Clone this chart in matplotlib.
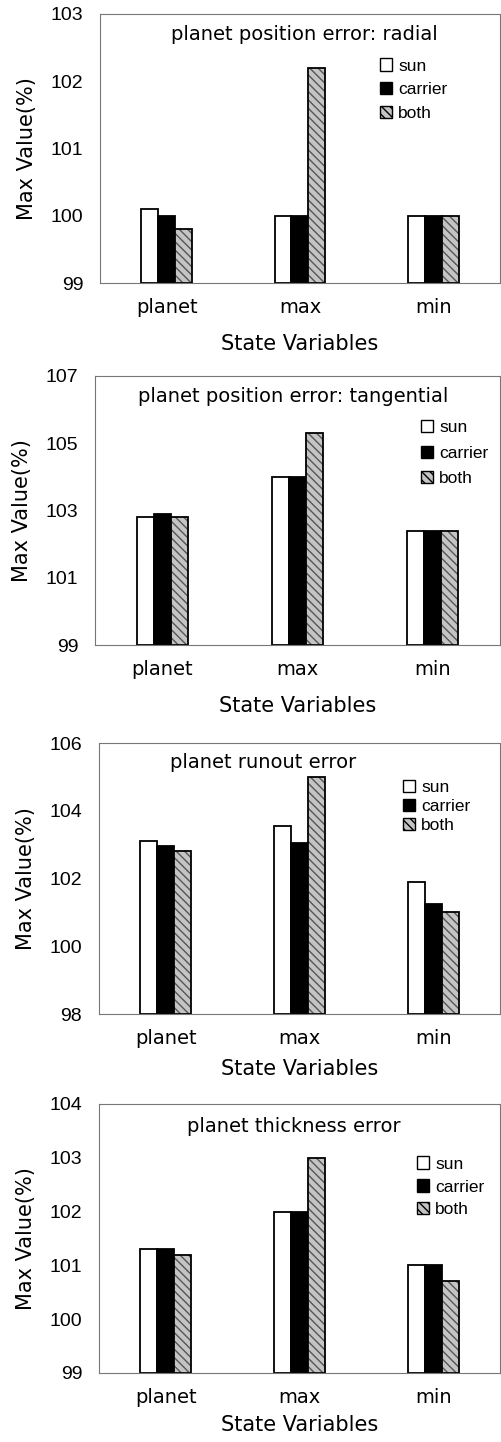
import numpy as np
import matplotlib
matplotlib.use('Agg')
import matplotlib.pyplot as plt
from matplotlib.patches import Patch

# State variables on the x axis
categories = ['planet', 'max', 'min']
series = ['sun', 'carrier', 'both']

# panel titles
titles = ['planet position error: radial',
          'planet position error: tangential',
          'planet runout error',
          'planet thickness error']

# Max values (%) per panel, rows = sun, carrier, both
radial = np.array([[100.1, 100.0, 100.0],
                   [100.0, 100.0, 100.0],
                   [99.8, 102.2, 100.0]])
tangential = np.array([[102.8, 104.0, 102.4],
                       [102.9, 104.0, 102.4],
                       [102.8, 105.3, 102.4]])
runout = np.array([[103.1, 103.55, 101.9],
                   [102.95, 103.05, 101.25],
                   [102.8, 105.0, 101.0]])
thickness = np.array([[101.3, 102.0, 101.0],
                      [101.3, 102.0, 101.0],
                      [101.2, 103.0, 100.7]])

yticks_list = [[99, 100, 101, 102, 103],
               [99, 101, 103, 105, 107],
               [98, 100, 102, 104, 106],
               [99, 100, 101, 102, 103, 104]]

data_list = [radial, tangential, runout, thickness]

# axes rectangles in figure fraction
rects = [[0.199, 0.8037, 0.797, 0.1866],
         [0.189, 0.5527, 0.807, 0.1866],
         [0.197, 0.2968, 0.799, 0.1879],
         [0.197, 0.0480, 0.799, 0.1864]]
title_pos = [(0.51, 0.925), (0.49, 0.925), (0.41, 0.93), (0.486, 0.915)]
legend_pos = [(0.70, 0.835), (0.805, 0.835), (0.758, 0.865), (0.793, 0.805)]
legend_space = [0.5, 0.58, 0.22, 0.45]
xlabel_pad = [12, 12, 8, 6]

face = ['white', 'black', '#c4c4c4']
hatch = [None, None, '\\\\\\\\']

fig = plt.figure(figsize=(5.02, 14.42), dpi=100)

x = np.arange(len(categories))
w = 0.127

for i in range(4):
    ax = fig.add_axes(rects[i])
    vals = data_list[i]
    ymin = yticks_list[i][0]
    for j in range(3):
        pos = x + (j - 1) * w
        if j == 2:
            ax.bar(pos, vals[j] - ymin, w, bottom=ymin, color=face[j],
                   edgecolor='#555555', hatch=hatch[j], linewidth=0)
            ax.bar(pos, vals[j] - ymin, w, bottom=ymin, fill=False,
                   edgecolor='black', linewidth=1.3)
        else:
            ax.bar(pos, vals[j] - ymin, w, bottom=ymin, color=face[j],
                   edgecolor='black', linewidth=1.3)

    ax.set_xlim(-0.5, 2.5)
    ax.set_ylim(yticks_list[i][0], yticks_list[i][-1])
    ax.set_yticks(yticks_list[i])
    ax.set_yticklabels([str(t) for t in yticks_list[i]], fontsize=14,
                       family='Liberation Sans')
    ax.set_xticks(x)
    ax.set_xticklabels(categories, fontsize=14, family='DejaVu Sans')
    ax.tick_params(axis='y', length=0, pad=12)
    ax.tick_params(axis='x', length=0, pad=11)
    ax.set_xlabel('State Variables', fontsize=15, family='DejaVu Sans',
                  labelpad=xlabel_pad[i])
    ax.set_ylabel('Max Value(%)', fontsize=15, family='DejaVu Sans', labelpad=10)
    for s in ax.spines.values():
        s.set_color('#777777')
        s.set_linewidth(0.8)
        s.set_linestyle((0, (1, 1)))

    ax.text(title_pos[i][0], title_pos[i][1], titles[i], transform=ax.transAxes,
            ha='center', va='center', fontsize=14, family='DejaVu Sans')

    handles = [Patch(facecolor=face[k], edgecolor='black', hatch=hatch[k],
                     linewidth=1.0, label=series[k]) for k in range(3)]
    ax.legend(handles=handles, loc='upper left', bbox_to_anchor=legend_pos[i],
              frameon=False, handlelength=0.7, handleheight=0.7,
              handletextpad=0.35, labelspacing=legend_space[i], borderpad=0,
              borderaxespad=0, prop={'family': 'Liberation Sans', 'size': 12.5})

fig.savefig('out.png', dpi=100)
